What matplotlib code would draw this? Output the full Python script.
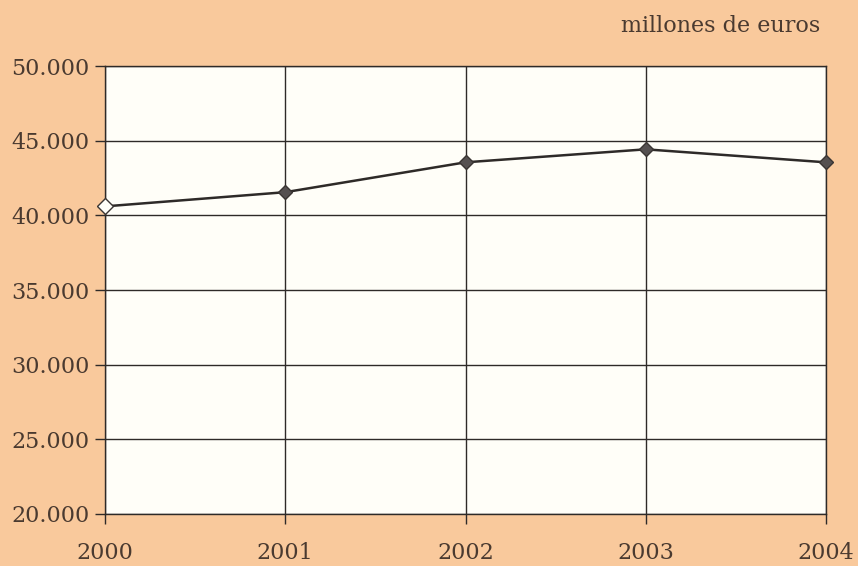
import matplotlib
matplotlib.use("Agg")
import matplotlib.pyplot as plt
from matplotlib.ticker import FuncFormatter

years = [2000, 2001, 2002, 2003, 2004]
values = [40600, 41550, 43550, 44420, 43550]
y_ticks = [20000, 25000, 30000, 35000, 40000, 45000, 50000]
unit_label = "millones de euros"

bg = "#F9C99C"
txt = "#4a3a30"
plt.rcParams['font.family'] = ['DejaVu Serif']

fig = plt.figure(figsize=(8.58, 5.66), dpi=100, facecolor=bg)
ax = fig.add_axes([105/858, 1-514/566, (826-105)/858, (514-66)/566])
ax.set_facecolor("#FFFEF8")

ax.set_xlim(years[0], years[-1])
ax.set_ylim(y_ticks[0], y_ticks[-1])
ax.set_xticks(years)
ax.set_yticks(y_ticks)
ax.yaxis.set_major_formatter(FuncFormatter(lambda v, p: f"{int(v):,}".replace(",", ".")))
ax.grid(True, color="#2e2a28", linewidth=1.0)
ax.set_axisbelow(True)
for s in ax.spines.values():
    s.set_color("#2e2a28")
    s.set_linewidth(1.0)
ax.tick_params(axis='both', colors="#2e2a28", labelcolor=txt, labelsize=16,
               length=7, width=1.0, direction='out')
ax.tick_params(axis='x', pad=13)
ax.tick_params(axis='y', pad=4)

ax.plot(years, values, color="#2e2a28", linewidth=1.8, zorder=3, clip_on=False)
ax.plot(years[1:], values[1:], linestyle='none', marker='D', markersize=7,
        markerfacecolor="#555050", markeredgecolor="#3a3533", zorder=4, clip_on=False)
ax.plot(years[:1], values[:1], linestyle='none', marker='D', markersize=8,
        markerfacecolor="#FFFEF8", markeredgecolor="#3a3533", markeredgewidth=1.0,
        zorder=4, clip_on=False)

fig.text(820/858, 1-26/566, unit_label, ha='right', va='center', fontsize=16, color=txt)

fig.savefig("out.png", dpi=100, facecolor=bg)
